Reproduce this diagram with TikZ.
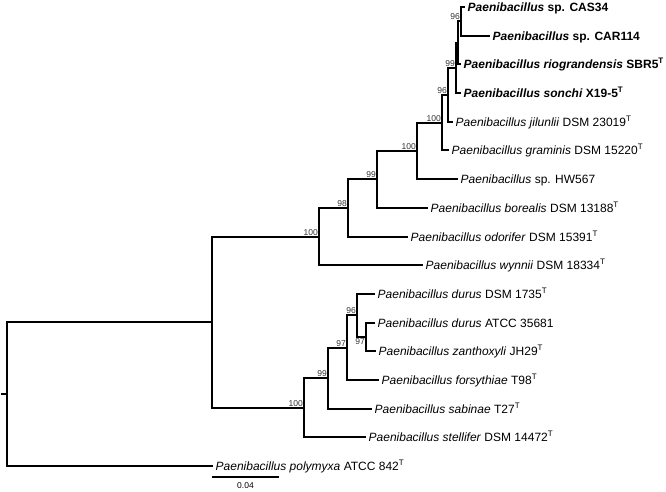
\documentclass[tikz,border=0pt]{standalone}
\usepackage{fontspec}
\setmainfont{Liberation Sans}
\usetikzlibrary{positioning}
\tikzset{
  branch/.style={line width=2pt,line cap=rect,line join=miter},
  leaf/.style={anchor=west,inner xsep=3.5pt,inner ysep=0pt,text height=8.6pt,text depth=0pt,font=\fontsize{12}{14}\selectfont},
  boot/.style={anchor=south east,inner sep=1pt,font=\fontsize{8.5}{10}\selectfont,text=black!80},
}
\newcommand{\typeT}{\textsuperscript{T}}
\newcommand{\Pb}{\textit{Paenibacillus}}

\begin{document}
\begin{tikzpicture}[x=1pt,y=-1pt]
\useasboundingbox (0,0) rectangle (666,491);
% inner nodes
\coordinate (root) at (7,394);
\coordinate (stem) at (2,394);
\coordinate (nIng) at (212,322);
\coordinate (nWyn) at (319,237);
\coordinate (nOdo) at (348,208);
\coordinate (nBor) at (377,179);
\coordinate (nHw)  at (417,151);
\coordinate (nGra) at (442,123);
\coordinate (nJil) at (448,95);
\coordinate (nSon) at (456,68);
\coordinate (nRio) at (458,43);
\coordinate (nCas) at (461,21);
\coordinate (nSte) at (304,408);
\coordinate (nSab) at (328,378);
\coordinate (nFor) at (347,348);
\coordinate (nDur) at (357,315);
\coordinate (nZan) at (366,337);
% tips
\node[leaf] (cas34)  at (464,7)   {\textbf{\Pb{} sp. CAS34}};
\node[leaf] (car114) at (489,36)  {\textbf{\Pb{} sp. CAR114}};
\node[leaf] (rio)    at (460,64)  {\textbf{\Pb{} \textit{riograndensis} SBR5\typeT}};
\node[leaf] (son)    at (460,93)  {\textbf{\Pb{} \textit{sonchi} X19-5\typeT}};
\node[leaf] (jil)    at (452,122) {\Pb{} \textit{jilunlii} DSM 23019\typeT};
\node[leaf] (gra)    at (448,150) {\Pb{} \textit{graminis} DSM 15220\typeT};
\node[leaf] (hw)     at (457,179) {\Pb{} sp. HW567};
\node[leaf] (bor)    at (427,208) {\Pb{} \textit{borealis} DSM 13188\typeT};
\node[leaf] (odo)    at (407,237) {\Pb{} \textit{odorifer} DSM 15391\typeT};
\node[leaf] (wyn)    at (422,265) {\Pb{} \textit{wynnii} DSM 18334\typeT};
\node[leaf] (durd)   at (374,294) {\Pb{} \textit{durus} DSM 1735\typeT};
\node[leaf] (dura)   at (374,323) {\Pb{} \textit{durus} ATCC 35681};
\node[leaf] (zan)    at (375,351) {\Pb{} \textit{zanthoxyli} JH29\typeT};
\node[leaf] (fors)   at (378,380) {\Pb{} \textit{forsythiae} T98\typeT};
\node[leaf] (sab)    at (371,409) {\Pb{} \textit{sabinae} T27\typeT};
\node[leaf] (ste)    at (365,437) {\Pb{} \textit{stellifer} DSM 14472\typeT};
\node[leaf] (pol)    at (212,466) {\Pb{} \textit{polymyxa} ATCC 842\typeT};
% branches
\draw[branch] (stem) -- (root);
\foreach \p/\c in {root/nIng,root/pol,nIng/nWyn,nIng/nSte,
  nWyn/nOdo,nWyn/wyn,nOdo/nBor,nOdo/odo,nBor/nHw,nBor/bor,
  nHw/nGra,nHw/hw,nGra/nJil,nGra/gra,nJil/nSon,nJil/jil,
  nSon/nRio,nSon/son,nRio/nCas,nRio/rio,nCas/cas34,nCas/car114,
  nSte/nSab,nSte/ste,nSab/nFor,nSab/sab,nFor/nDur,nFor/fors,
  nDur/durd,nDur/nZan,nZan/dura,nZan/zan}
  \draw[branch] (\p) |- (\c);
% bootstrap values
\foreach \n/\v in {nCas/96,nSon/99,nJil/96,nGra/100,nHw/100,nBor/99,
  nOdo/98,nWyn/100,nDur/96,nFor/97,nSab/99,nSte/100}
  \node[boot] (b\n) at (\n) {\v};
\node[boot,anchor=north east] (bnZan) at (nZan) {97};
% scale bar
\coordinate (sbl) at (212,477);
\coordinate (sbr) at (279,477);
\draw[line width=2pt] (sbl) -- (sbr) node[midway,below=5pt,inner sep=0pt,font=\fontsize{8.5}{10}\selectfont] (sblab) {0.04};
\end{tikzpicture}
\end{document}
